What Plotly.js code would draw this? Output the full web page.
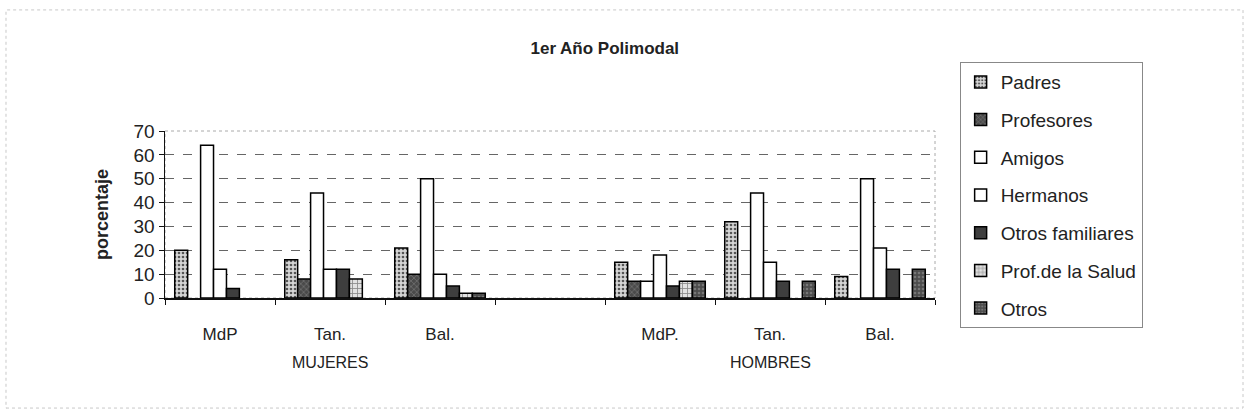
<!DOCTYPE html>
<html>
<head>
<meta charset="utf-8">
<script src="https://cdn.plot.ly/plotly-3.0.1.min.js"></script>
<style>
html,body{margin:0;padding:0;background:#fff;}
#chart{width:1247px;height:416px;}
</style>
</head>
<body>
<div id="chart"></div>
<script>
// Category labels (sub-level) and group labels
const categories = ["MdP", "Tan.", "Bal.", "", "MdP.", "Tan.", "Bal."];
const groups = ["MUJERES", "HOMBRES"];
const groupCenters = [1, 5];

const seriesNames = ["Padres", "Profesores", "Amigos", "Hermanos", "Otros familiares", "Prof.de la Salud", "Otros"];

const padres          = [20, 16, 21, 0, 15, 32, 9];
const profesores      = [0, 8, 10, 0, 7, 0, 0];
const amigos          = [64, 44, 50, 0, 7, 44, 50];
const hermanos        = [12, 12, 10, 0, 18, 15, 21];
const otrosFamiliares = [4, 12, 5, 0, 5, 7, 12];
const profSalud       = [0, 8, 2, 0, 7, 0, 0];
const otros           = [0, 0, 2, 0, 7, 7, 12];

const seriesValues = [padres, profesores, amigos, hermanos, otrosFamiliares, profSalud, otros];

const styles = [
  {color: "#d6d6d6", pattern: {shape: ".", fgcolor: "#555", bgcolor: "#d6d6d6", size: 4, solidity: 0.35}},
  {color: "#555555", pattern: {shape: "x", fgcolor: "#7a7a7a", bgcolor: "#4a4a4a", size: 4, solidity: 0.3}},
  {color: "#ffffff"},
  {color: "#ffffff"},
  {color: "#3e3e3e"},
  {color: "#e2e2e2", pattern: {shape: "+", fgcolor: "#888", bgcolor: "#e2e2e2", size: 5, solidity: 0.3}},
  {color: "#4c4c4c", pattern: {shape: ".", fgcolor: "#777", bgcolor: "#4c4c4c", size: 4, solidity: 0.35}}
];

const xIdx = categories.map((_, i) => i);

const traces = seriesNames.map((name, k) => {
  const m = {color: styles[k].color, line: {color: "#000", width: 1.5}};
  if (styles[k].pattern) m.pattern = styles[k].pattern;
  return {
    type: "bar",
    name: name,
    x: xIdx,
    // a zero value draws no bar (as in the original), so pass it as a gap
    y: seriesValues[k].map(v => (v === 0 ? null : v)),
    marker: m,
    legendgroup: "g" + k,
    hoverinfo: "name+y"
  };
});

const font = "Liberation Sans, Arial, sans-serif";
const boundaries = [];
for (let i = 0; i <= categories.length; i++) boundaries.push(i - 0.5);

const annotations = groups.map((g, i) => ({
  text: g, x: groupCenters[i], xref: "x", y: -0.385, yref: "paper",
  showarrow: false, xanchor: "center", yanchor: "middle",
  font: {family: font, size: 16, color: "#222"}
}));

const layout = {
  width: 1247, height: 416,
  margin: {l: 165, r: 312, t: 131, b: 118},
  paper_bgcolor: "#fff", plot_bgcolor: "#fff",
  barmode: "group", bargap: 0.177, bargroupgap: 0,
  title: {text: "1er Año Polimodal", x: 0.485, xref: "container", xanchor: "center",
          y: 0.885, yref: "container", yanchor: "middle",
          font: {family: font, size: 17, color: "#222", weight: "bold"}},
  xaxis: {
    range: [-0.5, categories.length - 0.5],
    tickvals: xIdx, ticktext: categories, ticks: "", ticklen: 0,
    showgrid: false, zeroline: false,
    showline: true, linecolor: "#111", linewidth: 1.5,
    ticklabelstandoff: 20,
    tickfont: {family: font, size: 17, color: "#222"},
    minor: {tickvals: boundaries, ticks: "outside", ticklen: 5, tickcolor: "#111", showgrid: false}
  },
  yaxis: {
    range: [0, 70], tickvals: [0, 10, 20, 30, 40, 50, 60, 70],
    ticks: "outside", ticklen: 5, tickcolor: "#111",
    showgrid: true, gridcolor: "#666", griddash: "dash", gridwidth: 1,
    zeroline: false, showline: true, linecolor: "#111", linewidth: 1.5,
    tickfont: {family: font, size: 19, color: "#222"},
    title: {text: "porcentaje", standoff: 20, font: {family: font, size: 18, color: "#222", weight: "bold"}}
  },
  legend: {
    x: 1.032, xanchor: "left", y: 1.413, yanchor: "top",
    bordercolor: "#888", borderwidth: 1, bgcolor: "#fff",
    font: {family: font, size: 19, color: "#222"},
    tracegroupgap: 10, traceorder: "grouped", maxheight: 400
  },
  annotations: annotations,
  shapes: [
    {type: "rect", xref: "paper", yref: "paper", x0: 0, x1: 1, y0: 0, y1: 1,
     line: {color: "#aaa", width: 1, dash: "dot"}, layer: "below"},
    {type: "rect", xref: "paper", yref: "paper", x0: -0.2065, x1: 1.4, y0: -0.659, y1: 1.725,
     line: {color: "#c8c8c8", width: 1, dash: "dot"}}
  ],
  showlegend: true
};

Plotly.newPlot("chart", traces, layout, {displayModeBar: false, staticPlot: true});
</script>
</body>
</html>
